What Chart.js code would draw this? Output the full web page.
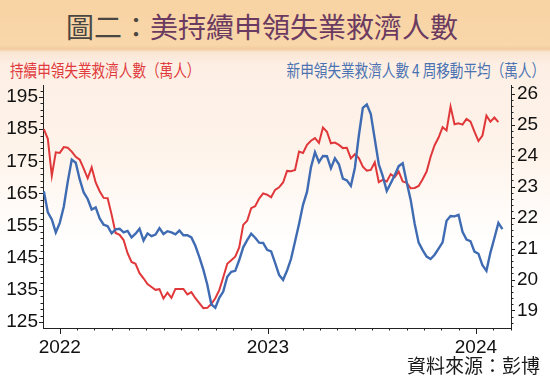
<!DOCTYPE html>
<html><head><meta charset="utf-8">
<script src="https://cdn.jsdelivr.net/npm/chart.js@4/dist/chart.umd.min.js"></script>
<style>
html,body{margin:0;padding:0;background:#fff;}
#wrap{position:relative;width:550px;height:377px;overflow:hidden;
 background:linear-gradient(to bottom,#F8D3A3 0px,#F9D7AA 45px,#F1CB9E 49px,#FAE5D3 52px,#FDEFE4 64px,#FEF3EA 150px,#FFFFFF 245px,#FFFFFF 377px);}
#title{position:absolute;left:0;top:6px;width:524px;text-align:center;font:400 28px 'Noto Sans CJK TC','Noto Sans CJK SC',sans-serif;line-height:40px;white-space:nowrap;}
#title .a{color:#4A4642;}
#title .b{color:#6B3A61;}
.leg{position:absolute;top:58px;font:400 17px 'Noto Sans CJK TC','Noto Sans CJK SC',sans-serif;line-height:24px;white-space:nowrap;}
#legR{left:10px;color:#E03A3C;transform:scaleX(0.8);transform-origin:left center;}
#legB{right:5px;color:#4A72B2;transform:scaleX(0.8);transform-origin:right center;}
#src{position:absolute;right:10px;top:353px;font:400 19px 'Noto Sans CJK TC','Noto Sans CJK SC',sans-serif;line-height:24px;color:#1a1a1a;white-space:nowrap;}
canvas{position:absolute;left:0;top:0;}
</style></head>
<body>
<div id="wrap">
 <div id="title"><span class="a">圖二：</span><span class="b">美持續申領失業救濟人數</span></div>
 <div class="leg" id="legR">持續申領失業救濟人數（萬人）</div>
 <div class="leg" id="legB">新申領失業救濟人數 4 周移動平均（萬人）</div>
 <canvas id="c" width="550" height="377"></canvas>
 <div id="src">資料來源：彭博</div>
</div>
<script>
// ---- data (weekly, week index relative to first week of 2022) ----
const FIRST_WEEK = -4;
const yearTickLabels = ['2022', '2023', '2024'];
const leftTickLabels = [125, 135, 145, 155, 165, 175, 185, 195];
const rightTickLabels = [19, 20, 21, 22, 23, 24, 25, 26];

// 持續申領失業救濟人數（萬人） — left axis
const continuingClaims = [
 185, 182, 170.5, 177.8, 177.6, 179.4, 179.2, 178, 176.4, 175.5,
 172.7, 169.7, 173.1, 168.4, 165.7, 163.6, 163.5, 158.4, 152.7, 152.1,
 150.5, 146.4, 143.7, 143.1, 140.2, 138.6, 136.8, 135.9, 135, 135.2,
 132.3, 134.1, 132.5, 135.3, 135.3, 135.3, 133.6, 134.3, 132.4, 130.9,
 129.3, 129.4, 130.6, 132.4, 134.9, 138.9, 143.1, 144.2, 145.3, 148.2,
 155.2, 156.5, 160.4, 161, 163.4, 165, 164.6, 163.8, 166.1, 166.9,
 168.4, 172, 171.9, 172.3, 178, 177.6, 180.1, 181.4, 182.2, 180.7,
 185.5, 184.2, 180.6, 180.8, 180.1, 179.1, 179.2, 175.9, 177.2, 176,
 173.3, 172.1, 172.3, 174.7, 168.5, 169.2, 168.7, 171, 170.1, 171.8,
 168.7, 168.3, 166.6, 166.7, 167.3, 169.4, 171.8, 176.4, 180, 182.4,
 185.6, 184.6, 192, 186.5, 186.8, 186.4, 188.2, 187.3, 184.2, 181.3,
 183, 189.2, 187.3, 188.6, 187.2
];
// 新申領失業救濟人數 4 周移動平均（萬人） — right axis
const initialClaims4wk = [
 22.85, 22.17, 21.94, 21.52, 21.83, 22.35, 23.16, 23.87, 23.77, 23.23,
 22.81, 22.6, 22.26, 22.33, 21.97, 21.77, 21.72, 21.49, 21.62, 21.64,
 21.52, 21.57, 21.36, 21.48, 21.64, 21.26, 21.49, 21.4, 21.45, 21.66,
 21.47, 21.56, 21.52, 21.46, 21.58, 21.43, 21.43, 21.36, 21.09, 20.72,
 20.32, 19.83, 19.2, 19.09, 19.41, 19.61, 20.09, 20.25, 20.28, 20.63,
 21.04, 21.27, 21.48, 21.35, 21.19, 21.18, 20.96, 20.91, 20.54, 20.15,
 19.99, 20.29, 20.67, 21.23, 21.79, 22.41, 22.83, 23.63, 24.11, 23.79,
 23.99, 23.98, 23.59, 23.91, 23.72, 23.26, 23.2, 23.02, 23.6, 24.65,
 25.54, 25.65, 25.34, 24.53, 23.72, 23.34, 22.86, 23.11, 23.37, 23.66,
 23.75, 23.14, 22.57, 21.8, 21.19, 20.95, 20.74, 20.66, 20.8, 21.0,
 21.2, 21.9, 22.05, 22.04, 22.09, 21.54, 21.29, 21.24, 20.9, 20.83,
 20.46, 20.28, 20.87, 21.34, 21.83, 21.63
];

const WEEKS_PER_YEAR = 52.18;
const toPoints = arr => arr.map((v, i) => ({ x: FIRST_WEEK + i, y: v }));
const yearPositions = yearTickLabels.map((_, i) => i * WEEKS_PER_YEAR);

const tickFont = { family: "'Liberation Sans Narrow','Liberation Sans',Arial", size: 19 };

const tickMarks = {
 id: 'tickMarks',
 afterDraw(chart) {
  const ctx = chart.ctx, a = chart.chartArea;
  const sx = chart.scales.x, sy = chart.scales.y, sy2 = chart.scales.y2;
  ctx.save();
  ctx.strokeStyle = '#222';
  ctx.lineWidth = 1;
  ctx.beginPath();
  for (let v = 125; v <= sy.max; v += 2) {
   const p = Math.round(sy.getPixelForValue(v)) + 0.5;
   const len = ((v - 125) % 10 === 0) ? 4 : 2.5;
   ctx.moveTo(a.left, p); ctx.lineTo(a.left - len, p);
  }
  for (let k = Math.ceil(sy2.min * 5); k <= Math.floor(sy2.max * 5); k++) {
   const p = Math.round(sy2.getPixelForValue(k / 5)) + 0.5;
   const len = (k % 5 === 0) ? 4 : 2.5;
   ctx.moveTo(a.right, p); ctx.lineTo(a.right + len, p);
  }
  for (let m = -2; m <= 28; m++) {
   const v = m * WEEKS_PER_YEAR / 12;
   if (v < sx.min || v > sx.max) continue;
   const p = Math.round(sx.getPixelForValue(v)) + 0.5;
   const len = (m % 12 === 0) ? 6 : 2.5;
   ctx.moveTo(p, a.bottom); ctx.lineTo(p, a.bottom + len);
  }
  ctx.stroke();
  ctx.restore();
 }
};

new Chart(document.getElementById('c'), {
 type: 'line',
 data: {
  datasets: [
   { label: '新申領失業救濟人數 4 周移動平均（萬人）', data: toPoints(initialClaims4wk), yAxisID: 'y2',
     borderColor: '#3F6BB3', borderWidth: 2.4, pointRadius: 0, tension: 0, fill: false },
   { label: '持續申領失業救濟人數（萬人）', data: toPoints(continuingClaims), yAxisID: 'y',
     borderColor: '#E0383A', borderWidth: 2, pointRadius: 0, tension: 0, fill: false }
  ]
 },
 options: {
  responsive: false,
  animation: false,
  layout: { padding: { top: 85, left: 0, right: 0, bottom: 0 } },
  plugins: { legend: { display: false }, tooltip: { enabled: false }, title: { display: false } },
  scales: {
   x: {
    type: 'linear', min: -4.21, max: 113.16,
    grid: { display: false, drawTicks: false },
    border: { display: true, color: '#222', width: 1 },
    afterBuildTicks: s => { s.ticks = yearPositions.map(v => ({ value: v })); },
    afterFit: s => { s.height = 49; },
    ticks: { padding: 8, font: tickFont, color: '#111', maxRotation: 0, autoSkip: false,
      callback: (v, i) => yearTickLabels[i] }
   },
   y: {
    position: 'left', min: 123.13, max: 198.73,
    grid: { display: false, drawTicks: false },
    border: { display: true, color: '#222', width: 1 },
    afterBuildTicks: s => { s.ticks = leftTickLabels.map(v => ({ value: v })); },
    afterFit: s => { s.width = 43; },
    ticks: { padding: 5, font: tickFont, color: '#111', autoSkip: false,
      callback: (v, i) => String(leftTickLabels[i]) }
   },
   y2: {
    position: 'right', min: 18.435, max: 26.28,
    grid: { display: false, drawTicks: false },
    border: { display: true, color: '#222', width: 1 },
    afterBuildTicks: s => { s.ticks = rightTickLabels.map(v => ({ value: v })); },
    afterFit: s => { s.width = 39; },
    ticks: { padding: 6, font: tickFont, color: '#111', autoSkip: false,
      callback: (v, i) => String(rightTickLabels[i]) }
   }
  }
 },
 plugins: [tickMarks]
});
</script>
</body></html>
